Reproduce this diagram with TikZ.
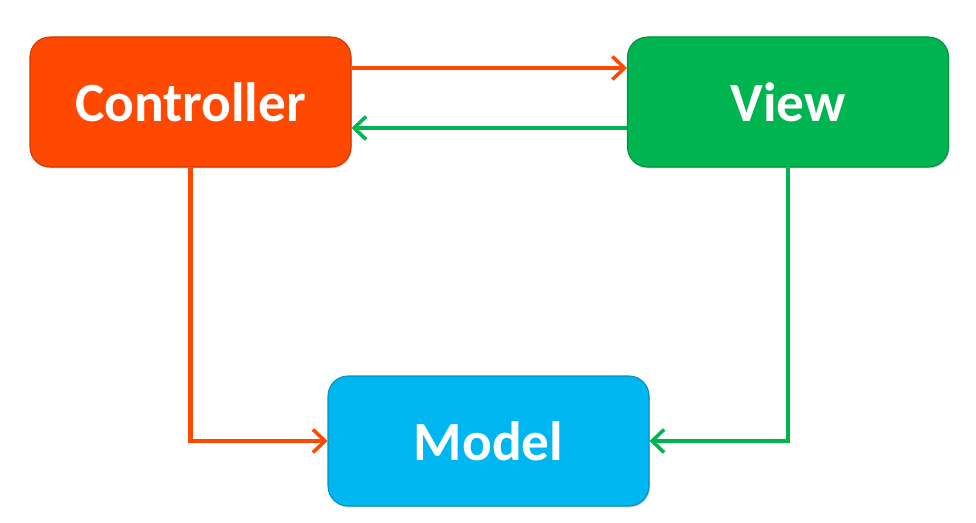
\documentclass[tikz,border=0pt]{standalone}
\usepackage{fontspec}
\setmainfont{Carlito}
\usetikzlibrary{arrows.meta,positioning,shadows}
\definecolor{ctrlred}{RGB}{255,72,0}
\definecolor{viewgreen}{RGB}{0,180,80}
\definecolor{modelblue}{RGB}{0,182,240}

\begin{document}
\begin{tikzpicture}[
    box/.style={draw=#1!80!black,fill=#1,line width=0.6pt,rounded corners=0.4cm,
        minimum width=6.42cm,minimum height=2.6cm,text=white,
        font=\fontsize{31.5}{34}\selectfont\bfseries,
        drop shadow={shadow xshift=0.5pt,shadow yshift=-0.8pt,opacity=0.35}},
    link/.style={#1,line width=2.3pt,-{Straight Barb[length=2.4mm,width=4.6mm,line width=2pt]}}
]
  \useasboundingbox (0,0) rectangle (19.52,10.44);

  % Boxes
  \node[box=ctrlred] (ctrl) at (3.81,8.4) {Controller};
  \node[box=viewgreen] (view) at (15.76,8.4) {View};
  \node[box=modelblue] (model) at (9.77,1.62) {Model};

  % Connectors
  \draw[link=ctrlred] ([yshift=0.68cm]ctrl.east) -- ([yshift=0.68cm]view.west);
  \draw[link=viewgreen] ([yshift=-0.52cm]view.west) -- ([yshift=-0.52cm]ctrl.east);
  \draw[link=ctrlred] (ctrl.south) |- (model.west);
  \draw[link=viewgreen] (view.south) |- (model.east);
\end{tikzpicture}
\end{document}
